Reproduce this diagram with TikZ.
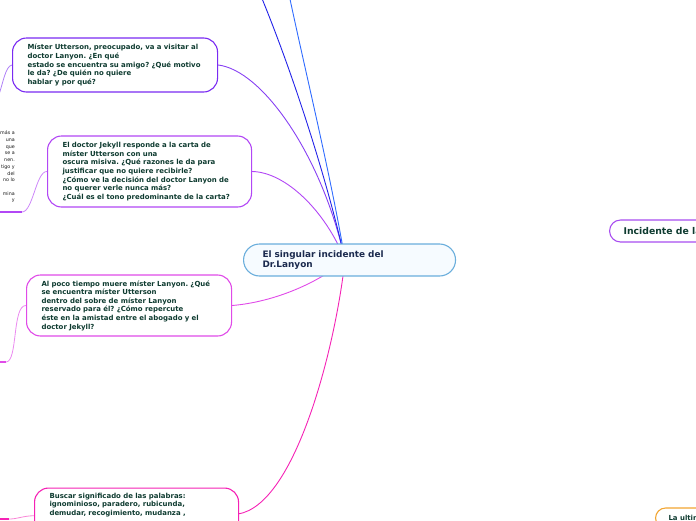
\documentclass[tikz,border=0pt]{standalone}
\usepackage{fontspec}
\setmainfont{DejaVu Sans}
\frenchspacing
\usetikzlibrary{backgrounds}
\definecolor{Map_Text}{HTML}{0E3B30}
\definecolor{Root_Text}{HTML}{1B2A4E}
\definecolor{Root_Line}{HTML}{6AAEDC}
\definecolor{Root_Fill}{HTML}{F6FBFF}
\definecolor{Mister_Line}{HTML}{7A2BF2}
\definecolor{Jekyll_Line}{HTML}{B247F5}
\definecolor{Poco_Line}{HTML}{E04BE8}
\definecolor{Buscar_Line}{HTML}{F522B5}
\definecolor{Blue_Dark}{HTML}{2323E8}
\definecolor{Blue_Light}{HTML}{2F6BFF}
\definecolor{Window_Line}{HTML}{A84DF0}
\definecolor{Night_Line}{HTML}{F2A531}

\begin{document}
\begin{tikzpicture}[x=1pt, y=-1pt,
    topic/.style={draw, fill=white, rounded corners=14pt, line width=1.1pt, text=Map_Text,
        font=\fontsize{6.95}{8.6}\selectfont\bfseries, align=left, inner xsep=15pt, inner ysep=0pt},
    link/.style={line width=0.9pt},
    stub/.style={line width=0.8pt},
    foot/.style={line width=1.6pt}]
    \useasboundingbox (0,0) rectangle (696,520);
    \clip (0,0) rectangle (696,520);

    % Central topic
    \node[draw=Root_Line, fill=Root_Fill, rounded corners=16pt, line width=1.1pt, text=Root_Text,
        font=\fontsize{8.9}{10.3}\selectfont\bfseries, align=left, text width=174pt,
        inner xsep=19pt, inner ysep=0pt, minimum height=32pt, anchor=west] (root) at (243,260)
        {El singular incidente del\\Dr.Lanyon};
    \coordinate (hub) at (345,260);

    % Sub-topics on the left
    \node[topic, draw=Mister_Line, text width=175pt, minimum height=54pt, anchor=west] (mister) at (12,65)
        {Míster Utterson, preocupado, va a visitar al\\doctor Lanyon. ¿En qué\\estado se encuentra su amigo? ¿Qué motivo\\le da? ¿De quién no quiere\\hablar y por qué?};
    \node[topic, draw=Jekyll_Line, text width=174pt, minimum height=71pt, anchor=west] (jekyll) at (47,171.5)
        {El doctor Jekyll responde a la carta de\\míster Utterson con una\\oscura misiva. ¿Qué razones le da para\\justificar que no quiere recibirle?\\¿Cómo ve la decisión del doctor Lanyon de\\no querer verle nunca más?\\¿Cuál es el tono predominante de la carta?};
    \node[topic, draw=Poco_Line, text width=175pt, minimum height=61pt, anchor=west] (poco) at (26,305.5)
        {Al poco tiempo muere míster Lanyon. ¿Qué\\se encuentra míster Utterson\\dentro del sobre de míster Lanyon\\reservado para él? ¿Cómo repercute\\éste en la amistad entre el abogado y el\\doctor Jekyll?};
    \node[topic, draw=Buscar_Line, text width=174pt, inner ysep=5pt, text depth=40pt, anchor=north west] (buscar) at (34,487.5)
        {Buscar significado de las palabras:\\ignominioso, paradero, rubicunda,\\demudar, recogimiento, mudanza ,};

    % Clipped topic on the far left
    \node[font=\fontsize{4.8}{6.7}\selectfont, text=black!90, align=right, inner sep=0pt, anchor=south east] (prev) at (15,203)
        {más a\\una\\que\\se a\\nen.\\tigo y\\del\\no lo\\[6.7pt]mina\\y\hspace{11pt}};
    \coordinate (prevfoot) at (22,212);

    % Topics on the right
    \node[topic, draw=Window_Line, rounded corners=11pt, font=\fontsize{9.3}{10}\selectfont\bfseries,
        inner xsep=14pt, minimum height=22pt, anchor=west] (window) at (609,231) {Incidente de la ventana};
    \node[topic, draw=Night_Line, rounded corners=10pt, inner xsep=13pt, minimum height=20pt, anchor=west] (night) at (655,518)
        {La ultima noche};

    % Off-canvas ends
    \coordinate (upA) at (252,-25);
    \coordinate (upB) at (285,-25);
    \coordinate (misterfoot) at (-3,100);
    \coordinate (pocofoot) at (6,362);
    \coordinate (buscarfoot) at (9,519);
    \coordinate (buscarout) at (238,514);

    \begin{scope}[on background layer]
        \draw[link, Mister_Line!90!white] (mister.east) .. controls (262,70) and (322,155) .. (hub);
        \draw[link, Jekyll_Line] (jekyll.east) .. controls (285,172) and (325,210) .. (hub);
        \draw[link, Blue_Dark] (hub) .. controls (325,170) and (285,50) .. (upA);
        \draw[link, Blue_Light] (hub) .. controls (330,170) and (300,50) .. (upB);
        \draw[link, Poco_Line] (poco.east) .. controls (275,302) and (320,282) .. (hub);
        \draw[link, Buscar_Line] (buscarout) .. controls (295,505) and (335,350) .. (hub);

        % stubs towards the clipped parent
        \draw[stub, Mister_Line!60!white] (mister.west) .. controls (5,66) and (3,85) .. (misterfoot);
        \draw[stub, Jekyll_Line!65!white] (jekyll.west) .. controls (36,171) and (33,212) .. (prevfoot);
        \draw[foot, Jekyll_Line] (prevfoot) -- ++(-30,0);
        \draw[stub, Poco_Line!65!white] (poco.west) .. controls (12,305) and (18,362) .. (pocofoot);
        \draw[foot, Poco_Line] (pocofoot) -- ++(-15,0);
        \draw[stub, Buscar_Line!55!white] (buscar.west) .. controls (22,516) and (18,519) .. (buscarfoot);
        \draw[foot, Buscar_Line] (buscarfoot) -- ++(-15,0);
    \end{scope}
\end{tikzpicture}
\end{document}
